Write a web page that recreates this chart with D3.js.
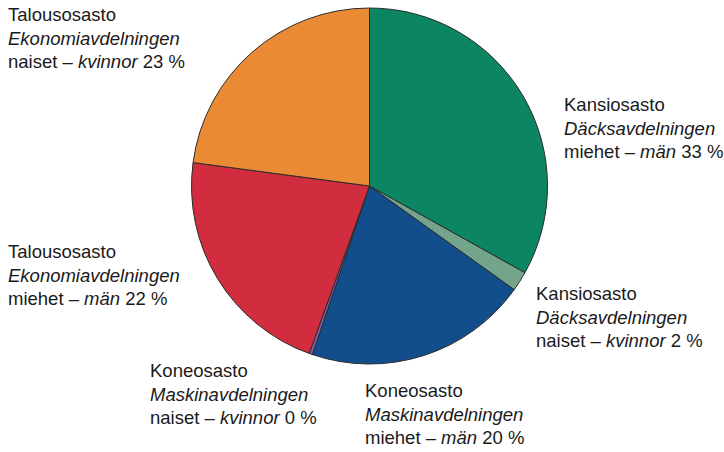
<!DOCTYPE html>
<html>
<head>
<meta charset="utf-8">
<script src="https://cdn.jsdelivr.net/npm/d3@7"></script>
<style>
  body { margin: 0; background: #fff; }
  text { font-family: "Liberation Sans", Arial, sans-serif; fill: #1a1a1a; }
</style>
</head>
<body>
<svg width="724" height="452"></svg>
<script>
// Slices, clockwise from 12 o'clock
var departments = ["Kansiosasto", "Kansiosasto", "Koneosasto", "Koneosasto", "Talousosasto", "Talousosasto"];
var departmentsSv = ["Däcksavdelningen", "Däcksavdelningen", "Maskinavdelningen", "Maskinavdelningen", "Ekonomiavdelningen", "Ekonomiavdelningen"];
var groupsFi = ["miehet", "naiset", "miehet", "naiset", "miehet", "naiset"];
var groupsSv = ["män", "kvinnor", "män", "kvinnor", "män", "kvinnor"];
var shares = [33.1, 1.8, 20.3, 0.3, 21.6, 22.9];
var shareLabels = ["33", "2", "20", "0", "22", "23"];
var colors = ["#0b8562", "#72a58c", "#134e8c", "#7b5ea7", "#d22d3f", "#ea8a35"];

// label anchor (first baseline of each block)
var labelPos = [[564, 111], [536, 300], [365, 397], [150, 377], [8, 258], [8, 21]];

var svg = d3.select("svg"),
    cx = 369.5, cy = 186, radius = 178;

var pie = d3.pie().sort(null).value(function(d){ return d; });
var arc = d3.arc().innerRadius(0).outerRadius(radius);

var g = svg.append("g").attr("transform", "translate(" + cx + "," + cy + ")");

g.selectAll("path")
  .data(pie(shares))
  .enter().append("path")
    .attr("d", arc)
    .attr("fill", function(d, i){ return colors[i]; })
    .attr("stroke", "#2b2b2b")
    .attr("stroke-width", 1)
    .attr("stroke-linejoin", "round");

var fs = 18.5, lh = 23.7;

var labels = svg.selectAll(".lab")
  .data(shares)
  .enter().append("text")
    .attr("class", "lab")
    .attr("x", function(d, i){ return labelPos[i][0]; })
    .attr("y", function(d, i){ return labelPos[i][1]; })
    .style("font-size", fs + "px");

labels.each(function(d, i){
  var t = d3.select(this), x = labelPos[i][0];
  t.append("tspan").attr("x", x).text(departments[i]);
  t.append("tspan").attr("x", x).attr("dy", lh).style("font-style", "italic").text(departmentsSv[i]);
  t.append("tspan").attr("x", x).attr("dy", lh).text(groupsFi[i] + " – ");
  t.append("tspan").style("font-style", "italic").text(groupsSv[i]);
  t.append("tspan").text(" " + shareLabels[i] + " %");
});
</script>
</body>
</html>
